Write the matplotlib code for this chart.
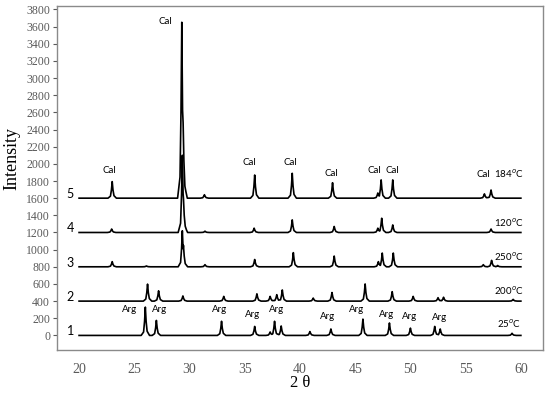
import numpy as np
import matplotlib
matplotlib.use('Agg')
from matplotlib import pyplot as plt

# peak positions (2 theta) and heights above each pattern's own baseline
pos_1 = [26.0, 27.0, 32.9, 35.9, 37.3, 37.7, 38.3, 40.9, 42.8, 45.7, 48.1, 50.0, 52.2, 52.7, 59.2]
hgt_1 = [330, 175, 165, 105, 40, 165, 110, 45, 75, 190, 145, 85, 105, 75, 25]

pos_2 = [26.2, 27.2, 29.4, 33.1, 36.1, 37.3, 37.9, 38.4, 41.2, 42.9, 45.9, 48.35, 50.25, 52.5, 53.0, 59.3]
hgt_2 = [198, 120, 60, 55, 85, 55, 75, 130, 35, 100, 200, 110, 55, 40, 45, 20]

pos_3 = [23.0, 26.1, 29.35, 29.45, 31.4, 35.9, 39.4, 43.1, 47.1, 47.45, 48.45, 56.6, 57.35, 57.9]
hgt_3 = [60, 10, 420, 250, 25, 85, 165, 125, 60, 160, 160, 25, 75, 15]

pos_4 = [22.95, 29.35, 29.45, 31.4, 35.85, 39.3, 43.1, 47.05, 47.4, 48.4, 57.3]
hgt_4 = [40, 900, 400, 15, 50, 147, 70, 50, 166, 88, 40]

pos_5 = [23.0, 29.3, 29.42, 31.35, 35.9, 39.3, 42.95, 47.05, 47.35, 48.4, 56.7, 57.3]
hgt_5 = [193, 2050, 880, 40, 270, 290, 180, 60, 213, 213, 50, 95]

offsets = [0, 400, 800, 1200, 1600]
numbers = ['1', '2', '3', '4', '5']
temps = ['25$^{o}$C', '200$^{o}$C', '250$^{o}$C', '120$^{o}$C', '184$^{o}$C']
temp_y = [136, 524, 920, 1315, 1880]

cal_x = [22.7, 27.85, 35.4, 39.1, 42.87, 46.7, 48.4, 56.6]
cal_y = [1920, 3655, 2015, 2015, 1890, 1920, 1920, 1880]
arg_x = [24.55, 27.33, 32.7, 35.7, 37.9, 42.5, 45.13, 47.85, 49.9, 52.6]
arg_y = [307, 307, 300, 249, 300, 221, 307, 249, 221, 214]

# shape of one peak (style only): offsets in degrees and fraction of height
shape_dx = np.array([-0.38, -0.16, -0.07, 0, 0.07, 0.16, 0.38])
shape_fr = np.array([0, 0.12, 0.5, 1, 0.5, 0.15, 0])


def pattern(pos, hgt):
    xs = np.concatenate([[20.0, 60.0]] + [p + shape_dx for p in pos])
    xs = np.unique(xs)
    ys = np.zeros_like(xs)
    for p, h in zip(pos, hgt):
        ys = np.maximum(ys, h * np.interp(xs, p + shape_dx, shape_fr, left=0, right=0))
    return xs, ys


fig = plt.figure(figsize=(5.5, 3.95), dpi=100)
ax = fig.add_axes([0.1036, 0.1139, 0.8836, 0.8709])

all_pos = [pos_1, pos_2, pos_3, pos_4, pos_5]
all_hgt = [hgt_1, hgt_2, hgt_3, hgt_4, hgt_5]
for i in range(5):
    xs, ys = pattern(all_pos[i], all_hgt[i])
    ax.plot(xs, ys + offsets[i], color='black', lw=1.2)
    ax.text(19.2, offsets[i] + 50, numbers[i], fontsize=9, family='Lato', ha='center', va='center')
    ax.text(58.9, temp_y[i], temps[i], fontsize=7, family='Lato', ha='center', va='center')

for x, y in zip(cal_x, cal_y):
    ax.text(x, y, 'Cal', fontsize=7, family='Lato', ha='center', va='center')
for x, y in zip(arg_x, arg_y):
    ax.text(x, y, 'Arg', fontsize=7, family='Lato', ha='center', va='center')

ax.set_xlim(18, 62)
ax.set_ylim(-170, 3840)
ax.set_xticks(np.arange(20, 61, 5))
ax.set_yticks(np.arange(0, 3801, 200))
for lab in ax.get_xticklabels():
    lab.set_family('Liberation Serif')
    lab.set_fontsize(10)
for lab in ax.get_yticklabels():
    lab.set_family('Liberation Serif')
    lab.set_fontsize(8.5)
ax.tick_params(axis='x', length=0, pad=9, colors='#5a5a5a')
ax.tick_params(axis='y', length=3, width=0.8, pad=2, colors='#5a5a5a')
for sp in ax.spines.values():
    sp.set_color('#8a8a8a')
    sp.set_linewidth(1.0)

fig.text(0.022, 0.6, 'Intensity', rotation=90, fontsize=13, family='Liberation Serif', ha='center', va='center')
fig.text(0.545, 0.03, '2 θ', fontsize=12, family='Liberation Serif', ha='center', va='center')

plt.savefig('out.png', dpi=100)
